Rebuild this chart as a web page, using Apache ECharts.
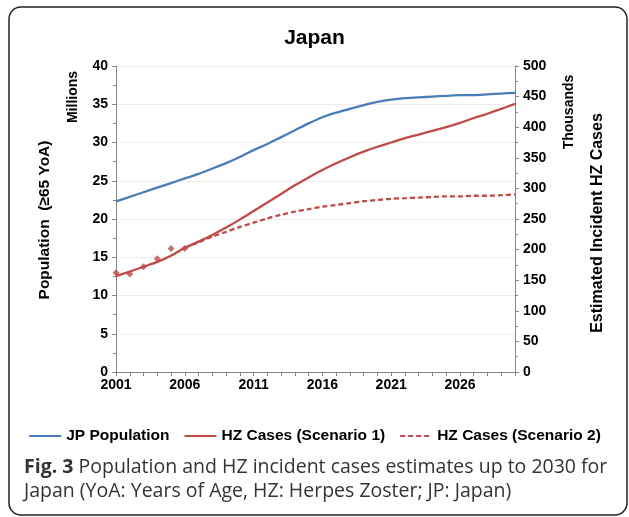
<!DOCTYPE html>
<html>
<head>
<meta charset="utf-8">
<script src="https://cdn.jsdelivr.net/npm/echarts@6/dist/echarts.min.js"></script>
<style>
  html, body { margin: 0; padding: 0; background: #fff; }
  #main { width: 629px; height: 517px; }
</style>
</head>
<body>
<div id="main"></div>
<script>
// years 2001..2030
var years = [];
for (var y = 2001; y <= 2030; y++) years.push(String(y));

// population aged >=65, millions
var population = [22.3, 22.9, 23.5, 24.1, 24.7, 25.3, 25.9, 26.6, 27.3, 28.1,
  29.0, 29.8, 30.7, 31.6, 32.5, 33.3, 33.9, 34.4, 34.9, 35.3,
  35.6, 35.8, 35.9, 36.0, 36.1, 36.2, 36.2, 36.3, 36.4, 36.5];

// HZ cases, thousands
var scenario1 = [157, 164, 172, 180, 190, 203, 213, 224, 236, 249,
  263, 277, 291, 305, 318, 330, 341, 351, 360, 368,
  375, 382, 388, 394, 400, 407, 415, 422, 430, 438];

var scenario2 = [null, null, null, null, null, 203, 212, 221, 229, 237,
  244, 251, 257, 262, 266, 270, 273, 276, 279, 281,
  283, 284, 285, 286, 287, 287, 288, 288, 289, 290];

// observed cases (markers)
var observed = [162, 160, 172, 185, 202, 202];

var blue = '#4a7ebb';
var red = '#be4b48';
var axisGray = '#868686';
var sans = 'Liberation Sans, Arial, sans-serif';

var myChart = echarts.init(document.getElementById('main'));
myChart.setOption({
  animation: false,
  textStyle: { fontFamily: sans },
  title: {
    text: 'Japan',
    left: 'center',
    top: 23,
    textStyle: { fontSize: 21, fontWeight: 'bold', color: '#000' }
  },
  legend: {
    top: 423,
    left: 'center',
    itemWidth: 32,
    itemGap: 14,
    itemStyle: { opacity: 0 },
    textStyle: { fontSize: 15.5, fontWeight: 'bold', color: '#000' },
    data: ['JP Population', 'HZ Cases (Scenario 1)', 'HZ Cases (Scenario 2)']
  },
  grid: { left: 116, right: 114, top: 66, bottom: 145 },
  xAxis: {
    type: 'category',
    data: years,
    boundaryGap: false,
    axisLine: { lineStyle: { color: axisGray } },
    axisTick: { show: true, interval: 0, length: 4, lineStyle: { color: axisGray } },
    axisLabel: { interval: 4, fontSize: 14, fontWeight: 'bold', color: '#000', margin: 6 },
    splitLine: { show: false }
  },
  yAxis: [
    {
      type: 'value',
      min: 0, max: 40, interval: 5,
      axisLine: { show: true, lineStyle: { color: axisGray } },
      axisTick: { show: true, length: 4, lineStyle: { color: axisGray } },
      minorTick: { show: true, splitNumber: 2, length: 3, lineStyle: { color: axisGray } },
      axisLabel: { fontSize: 14, fontWeight: 'bold', color: '#000', margin: 8 },
      splitLine: { show: true, lineStyle: { color: '#ececec' } }
    },
    {
      type: 'value',
      min: 0, max: 500, interval: 50,
      axisLine: { show: true, lineStyle: { color: axisGray } },
      axisTick: { show: true, length: 4, lineStyle: { color: axisGray } },
      minorTick: { show: true, splitNumber: 2, length: 3, lineStyle: { color: axisGray } },
      axisLabel: { fontSize: 14, fontWeight: 'bold', color: '#000', margin: 8 },
      splitLine: { show: false }
    }
  ],
  series: [
    {
      name: 'JP Population',
      type: 'line',
      yAxisIndex: 0,
      data: population,
      smooth: 0.3,
      symbol: 'none',
      color: blue,
      lineStyle: { width: 2.3, color: blue }
    },
    {
      name: 'HZ Cases (Scenario 1)',
      type: 'line',
      yAxisIndex: 1,
      data: scenario1,
      smooth: 0.3,
      symbol: 'none',
      color: red,
      lineStyle: { width: 2.3, color: red }
    },
    {
      name: 'HZ Cases (Scenario 2)',
      type: 'line',
      yAxisIndex: 1,
      data: scenario2,
      smooth: 0.3,
      symbol: 'none',
      color: red,
      lineStyle: { width: 2.3, color: red, type: [5, 3] }
    },
    {
      name: 'Observed',
      type: 'scatter',
      yAxisIndex: 1,
      data: observed,
      symbol: 'diamond',
      symbolSize: 7,
      itemStyle: { color: red }
    }
  ],
  graphic: [
    {
      type: 'rect',
      shape: { x: 9, y: 7, width: 618, height: 508, r: 12 },
      style: { fill: 'none', stroke: '#222', lineWidth: 1.5 },
      z: -1
    },
    {
      type: 'text',
      x: 45, y: 220, rotation: Math.PI / 2,
      style: {
        text: 'Population  (\u226565 YoA)', fontSize: 15.5, fontWeight: 'bold',
        fill: '#000', align: 'center', verticalAlign: 'middle', fontFamily: sans
      }
    },
    {
      type: 'text',
      x: 73, y: 97, rotation: Math.PI / 2,
      style: {
        text: 'Millions', fontSize: 14, fontWeight: 'bold',
        fill: '#000', align: 'center', verticalAlign: 'middle', fontFamily: sans
      }
    },
    {
      type: 'text',
      x: 569, y: 112, rotation: Math.PI / 2,
      style: {
        text: 'Thousands', fontSize: 14, fontWeight: 'bold',
        fill: '#000', align: 'center', verticalAlign: 'middle', fontFamily: sans
      }
    },
    {
      type: 'text',
      x: 598, y: 223, rotation: Math.PI / 2,
      style: {
        text: 'Estimated Incident HZ Cases', fontSize: 16, fontWeight: 'bold',
        fill: '#000', align: 'center', verticalAlign: 'middle', fontFamily: sans
      }
    },
    {
      type: 'text',
      x: 24, y: 455,
      style: {
        text: '{b|Fig. 3} Population and HZ incident cases estimates up to 2030 for\nJapan (YoA: Years of Age, HZ: Herpes Zoster; JP: Japan)',
        fontSize: 19.5, lineHeight: 24, fill: '#333',
        fontFamily: 'Open Sans, Noto Sans, sans-serif',
        rich: {
          b: { fontSize: 19.5, lineHeight: 24, fontWeight: 'bold', fill: '#333', fontFamily: 'Open Sans, Noto Sans, sans-serif' }
        }
      }
    }
  ]
});
window.onresize = function () {
  myChart.resize();
};
</script>
</body>
</html>
